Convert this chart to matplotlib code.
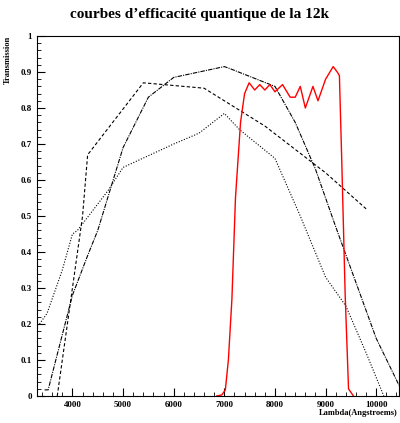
import matplotlib
matplotlib.use("Agg")
import matplotlib.pyplot as plt
from matplotlib.ticker import MultipleLocator

a_x = [3700, 4200, 4300, 5400, 5800, 6600, 7800, 9000, 9800]
a_y = [0.0, 0.5, 0.67, 0.87, 0.865, 0.855, 0.75, 0.62, 0.52]
b_x = [3450, 3520, 4000, 4300, 4500, 5000, 5500, 6000, 7000, 7100, 8000, 8400, 8800, 9200, 10000, 10450]
b_y = [0.017, 0.017, 0.28, 0.39, 0.46, 0.69, 0.83, 0.885, 0.915, 0.91, 0.86, 0.76, 0.63, 0.47, 0.16, 0.03]
c_x = [3350, 3500, 3800, 4000, 4100, 4700, 5000, 6000, 6500, 7000, 7300, 8000, 8500, 9000, 9400, 9800, 10150]
c_y = [0.2, 0.23, 0.35, 0.45, 0.46, 0.57, 0.635, 0.7, 0.73, 0.785, 0.74, 0.66, 0.5, 0.33, 0.25, 0.12, 0.0]
r_x = [6850, 6950, 7020, 7080, 7150, 7220, 7320, 7400, 7490, 7600, 7700, 7800, 7900, 8000, 8150, 8300, 8400, 8500, 8600, 8750, 8850, 9000, 9150, 9230, 9273, 9320, 9387, 9453, 9550]
r_y = [0.0, 0.003, 0.017, 0.1, 0.27, 0.55, 0.76, 0.84, 0.87, 0.85, 0.865, 0.85, 0.865, 0.845, 0.865, 0.83, 0.83, 0.86, 0.8, 0.86, 0.82, 0.88, 0.915, 0.9, 0.89, 0.65, 0.28, 0.02, 0.0]

plt.rcParams['font.family'] = ['Liberation Serif']
plt.rcParams['font.weight'] = 'bold'
fig = plt.figure(figsize=(4.0, 4.23), dpi=100)
ax = fig.add_axes([37/400, 27/423, 362/400, 360/423])
ax.plot(a_x, a_y, color='black', lw=0.8, ls=(0, (3, 2)))
ax.plot(b_x, b_y, color='black', lw=0.8, ls=(0, (4, 1, 1, 1)))
ax.plot(c_x, c_y, color='black', lw=0.8, ls=(0, (1, 1.5)))
ax.plot(r_x, r_y, color='red', lw=1.0)
ax.set_xlim(3300, 10450)
ax.set_ylim(0, 1)
ax.xaxis.set_major_locator(MultipleLocator(1000))
ax.xaxis.set_minor_locator(MultipleLocator(200))
ax.yaxis.set_major_locator(MultipleLocator(0.1))
ax.yaxis.set_minor_locator(MultipleLocator(0.02))
ax.tick_params(which='both', direction='in', labelsize=6.5)
ax.tick_params(which='major', length=6)
ax.tick_params(which='minor', length=3)
ax.set_yticklabels([('0' if round(v,1)==0 else ('1' if round(v,1)==1 else f'{v:.1f}')) for v in ax.get_yticks()])
ax.set_xticks([4000, 5000, 6000, 7000, 8000, 9000, 10000])
fig.text(0.5, 0.965, "courbes d’efficacité quantique de la 12k", ha='center', va='center', fontsize=11, fontweight='bold')
fig.text(0.995, 0.015, "Lambda(Angstroems)", ha='right', va='bottom', fontsize=6)
fig.text(0.01, 0.915, "Transmission", rotation=90, ha='left', va='top', fontsize=6)
fig.savefig("out.png", dpi=100)
